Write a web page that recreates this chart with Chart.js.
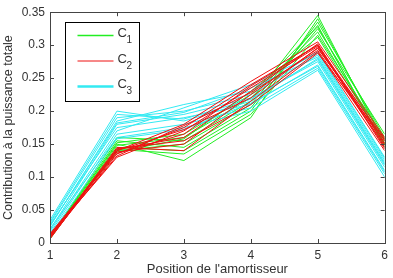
<!DOCTYPE html>
<html>
<head>
<meta charset="utf-8">
<script src="https://cdn.jsdelivr.net/npm/chart.js@4/dist/chart.umd.min.js"></script>
<style>
html,body{margin:0;padding:0;background:#fff;}
#wrap{width:393px;height:278px;}
</style>
</head>
<body>
<div id="wrap"><canvas id="c" width="393" height="278"></canvas></div>
<script>
// Positions (x axis categories)
const positions = [1, 2, 3, 4, 5, 6];
const yTicks = [0, 0.05, 0.1, 0.15, 0.2, 0.25, 0.3, 0.35];
const clusterNames = ['C1', 'C2', 'C3'];

// Cluster C1 (green)
const c1Lines = [
  [0.008, 0.160, 0.155, 0.215, 0.345, 0.150],
  [0.010, 0.150, 0.125, 0.190, 0.340, 0.155],
  [0.006, 0.145, 0.140, 0.200, 0.335, 0.160],
  [0.012, 0.140, 0.150, 0.210, 0.330, 0.145],
  [0.009, 0.155, 0.145, 0.205, 0.325, 0.165],
  [0.007, 0.148, 0.160, 0.220, 0.320, 0.150],
  [0.011, 0.142, 0.135, 0.195, 0.315, 0.158],
  [0.008, 0.152, 0.165, 0.225, 0.328, 0.148],
  [0.010, 0.138, 0.158, 0.230, 0.312, 0.152]
];
// Cluster C2 (red)
const c2Lines = [
  [0.010, 0.140, 0.180, 0.245, 0.305, 0.160],
  [0.008, 0.135, 0.175, 0.240, 0.300, 0.155],
  [0.012, 0.130, 0.170, 0.235, 0.298, 0.150],
  [0.006, 0.142, 0.160, 0.230, 0.302, 0.145],
  [0.014, 0.138, 0.150, 0.225, 0.295, 0.158],
  [0.009, 0.145, 0.140, 0.215, 0.290, 0.140],
  [0.011, 0.132, 0.178, 0.228, 0.292, 0.148],
  [0.007, 0.140, 0.172, 0.220, 0.296, 0.152],
  [0.013, 0.136, 0.165, 0.238, 0.300, 0.143],
  [0.010, 0.143, 0.155, 0.210, 0.288, 0.156]
];
// Cluster C3 (cyan)
const c3Lines = [
  [0.035, 0.200, 0.185, 0.215, 0.280, 0.120],
  [0.030, 0.190, 0.200, 0.225, 0.285, 0.125],
  [0.025, 0.185, 0.210, 0.230, 0.290, 0.130],
  [0.020, 0.180, 0.195, 0.220, 0.275, 0.115],
  [0.028, 0.175, 0.190, 0.210, 0.270, 0.110],
  [0.018, 0.170, 0.205, 0.240, 0.288, 0.128],
  [0.015, 0.165, 0.180, 0.205, 0.265, 0.105],
  [0.022, 0.160, 0.175, 0.200, 0.262, 0.100],
  [0.032, 0.195, 0.188, 0.218, 0.278, 0.118],
  [0.012, 0.158, 0.172, 0.212, 0.268, 0.108],
  [0.026, 0.182, 0.198, 0.235, 0.282, 0.122]
];

const COLORS = { C1: '#22ee22', C2: '#ee1111', C3: '#33eaf2' };
const LEGEND_WIDTHS = { C1: 1.5, C2: 1, C3: 2.5 };

function mk(lines, name) {
  return lines.map(vals => ({
    label: name,
    data: positions.map((x, i) => ({ x: x, y: vals[i] })),
    borderColor: COLORS[name],
    borderWidth: 1,
    pointRadius: 0,
    fill: false,
    tension: 0
  }));
}
// index 0 is drawn on top: red first, then cyan, then green (bottom)
const datasets = [].concat(mk(c2Lines, 'C2'), mk(c3Lines, 'C3'), mk(c1Lines, 'C1'));

const FONT = "'Liberation Sans', Arial, sans-serif";
const TXT = '#333';

const framePlugin = {
  id: 'frame',
  afterDraw(chart) {
    const ctx = chart.ctx;
    const a = chart.chartArea;
    const xs = chart.scales.x, ys = chart.scales.y;
    ctx.save();
    ctx.strokeStyle = '#444';
    ctx.lineWidth = 1;
    ctx.strokeRect(Math.round(a.left) + 0.5, Math.round(a.top) + 0.5,
                   Math.round(a.right - a.left), Math.round(a.bottom - a.top));
    const tl = 4;
    ctx.beginPath();
    positions.forEach(p => {
      const px = Math.round(xs.getPixelForValue(p)) + 0.5;
      ctx.moveTo(px, a.bottom); ctx.lineTo(px, a.bottom - tl);
      ctx.moveTo(px, a.top); ctx.lineTo(px, a.top + tl);
    });
    yTicks.forEach(v => {
      const py = Math.round(ys.getPixelForValue(v)) + 0.5;
      ctx.moveTo(a.left, py); ctx.lineTo(a.left + tl, py);
      ctx.moveTo(a.right, py); ctx.lineTo(a.right - tl, py);
    });
    ctx.stroke();

    // legend box
    const lx = Math.round(a.left) + 15.5, ly = Math.round(a.top) + 10.5;
    const lw = 74, lh = 79;
    ctx.fillStyle = '#fff';
    ctx.fillRect(lx, ly, lw, lh);
    ctx.strokeStyle = '#000';
    ctx.lineWidth = 1;
    ctx.strokeRect(lx, ly, lw, lh);
    clusterNames.forEach((n, i) => {
      const y = ly + 13 + i * 25.5;
      ctx.strokeStyle = COLORS[n];
      ctx.lineWidth = LEGEND_WIDTHS[n];
      ctx.beginPath();
      ctx.moveTo(lx + 12, y); ctx.lineTo(lx + 48, y);
      ctx.stroke();
      ctx.fillStyle = TXT;
      ctx.textBaseline = 'middle';
      ctx.textAlign = 'left';
      ctx.font = '13px ' + FONT;
      ctx.fillText(n.charAt(0), lx + 52, y - 2);
      ctx.font = '10px ' + FONT;
      ctx.fillText(n.slice(1), lx + 61, y + 5);
    });
    ctx.restore();
  }
};

new Chart(document.getElementById('c'), {
  type: 'line',
  data: { datasets: datasets },
  plugins: [framePlugin],
  options: {
    responsive: false,
    animation: false,
    devicePixelRatio: 1,
    layout: { padding: { top: 10, right: 4, left: 0, bottom: 0 } },
    plugins: { legend: { display: false }, tooltip: { enabled: false } },
    scales: {
      x: {
        type: 'linear',
        min: 1, max: 6,
        afterBuildTicks(s) { s.ticks = positions.map(v => ({ value: v })); },
        afterFit(s) { s.height = 35; },
        grid: { display: false, drawTicks: false },
        border: { display: false },
        ticks: { padding: 5, color: TXT, font: { family: FONT, size: 12 } },
        title: { display: true, text: "Position de l'amortisseur", color: TXT,
                 font: { family: FONT, size: 13 }, padding: { top: 0, bottom: 1 } }
      },
      y: {
        min: 0, max: 0.35,
        afterBuildTicks(s) { s.ticks = yTicks.map(v => ({ value: v })); },
        afterFit(s) { s.width = 50; },
        grid: { display: false, drawTicks: false },
        border: { display: false },
        ticks: { padding: 5, color: TXT, font: { family: FONT, size: 12 },
                 callback: v => String(v) },
        title: { display: true, text: 'Contribution à la puissance totale', color: TXT,
                 font: { family: FONT, size: 12.5 }, padding: { top: 1, bottom: 0 } }
      }
    }
  }
});
</script>
</body>
</html>
